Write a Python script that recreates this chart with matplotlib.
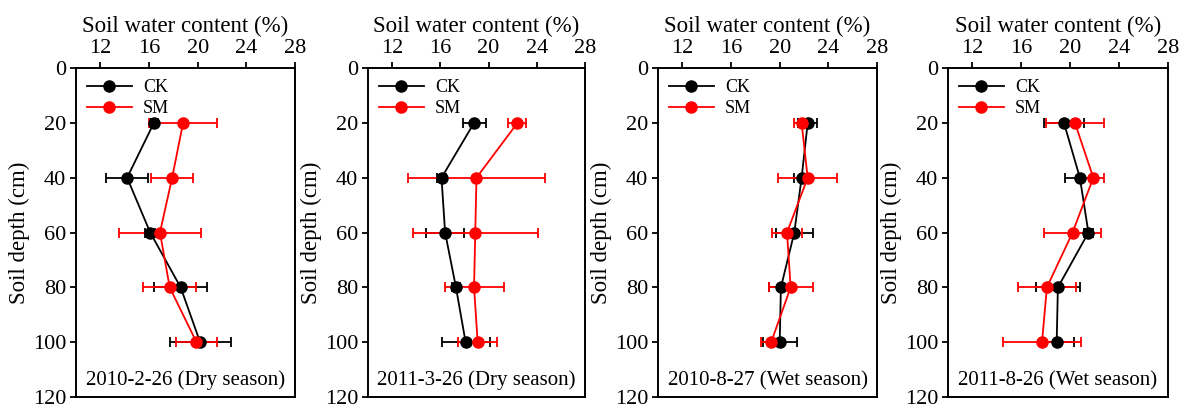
import numpy as np
import matplotlib.pyplot as plt

plt.rcParams['font.family'] = ['Liberation Serif', 'DejaVu Serif']

depth = [20, 40, 60, 80, 100]
titles = ["2010-2-26 (Dry season)", "2011-3-26 (Dry season)",
          "2010-8-27 (Wet season)", "2011-8-26 (Wet season)"]

ck = [[16.4, 14.2, 16.1, 18.6, 20.2],
      [18.8, 16.1, 16.4, 17.3, 18.1],
      [22.3, 21.8, 21.2, 20.1, 20.0],
      [19.5, 20.8, 21.5, 19.0, 18.9]]
ck_err = [[0.3, 1.7, 0.4, 2.2, 2.5],
          [0.95, 0.4, 1.6, 0.3, 2.0],
          [0.8, 0.6, 1.5, 1.0, 1.4],
          [1.6, 1.2, 0.4, 1.8, 1.4]]
sm = [[18.8, 17.9, 16.9, 17.7, 19.9],
      [22.4, 19.0, 18.9, 18.8, 19.1],
      [21.8, 22.3, 20.6, 20.9, 19.3],
      [20.4, 21.9, 20.2, 18.1, 17.7]]
sm_err = [[2.8, 1.75, 3.4, 2.2, 1.7],
          [0.75, 5.7, 5.2, 2.45, 1.6],
          [0.6, 2.4, 1.2, 1.8, 0.85],
          [2.35, 0.85, 2.3, 2.4, 3.2]]

fig = plt.figure(figsize=(11.82, 4.05), dpi=100)
lefts = [0.0643, 0.3113, 0.5567, 0.802]
widths = [0.1853, 0.1836, 0.1853, 0.186]

for i in range(4):
    ax = fig.add_axes([lefts[i], 0.0198, widths[i], 0.812])
    ax.errorbar(ck[i], depth, xerr=ck_err[i], color='black', marker='o', ms=8,
                lw=1.3, elinewidth=1.3, capsize=3.5, capthick=1.3, label='CK')
    ax.errorbar(sm[i], depth, xerr=sm_err[i], color='#ff0000', marker='o', ms=8,
                lw=1.3, elinewidth=1.3, capsize=3.5, capthick=1.3, label='SM')
    ax.set_xlim(10, 28)
    ax.set_ylim(120, 0)
    ax.set_xticks([12, 16, 20, 24, 28])
    ax.set_yticks([0, 20, 40, 60, 80, 100, 120])
    ax.xaxis.tick_top()
    ax.xaxis.set_label_position('top')
    ax.tick_params(labelsize=16, direction='out', length=4, width=1.3, pad=3)
    ax.set_xlabel('Soil water content (%)', fontsize=16.5, labelpad=5)
    ax.set_ylabel('Soil depth (cm)', fontsize=16.5, labelpad=2)
    for s in ax.spines.values():
        s.set_linewidth(1.4)
    ax.text(19, 114, titles[i], ha='center', va='center', fontsize=15)
    h, l = ax.get_legend_handles_labels()
    h = [x[0] for x in h]
    ax.legend(h, l, loc='upper left', frameon=False, fontsize=13, handlelength=2.5,
              borderaxespad=0.2, labelspacing=0.25, handletextpad=0.6)

fig.savefig('out.png', dpi=100)
